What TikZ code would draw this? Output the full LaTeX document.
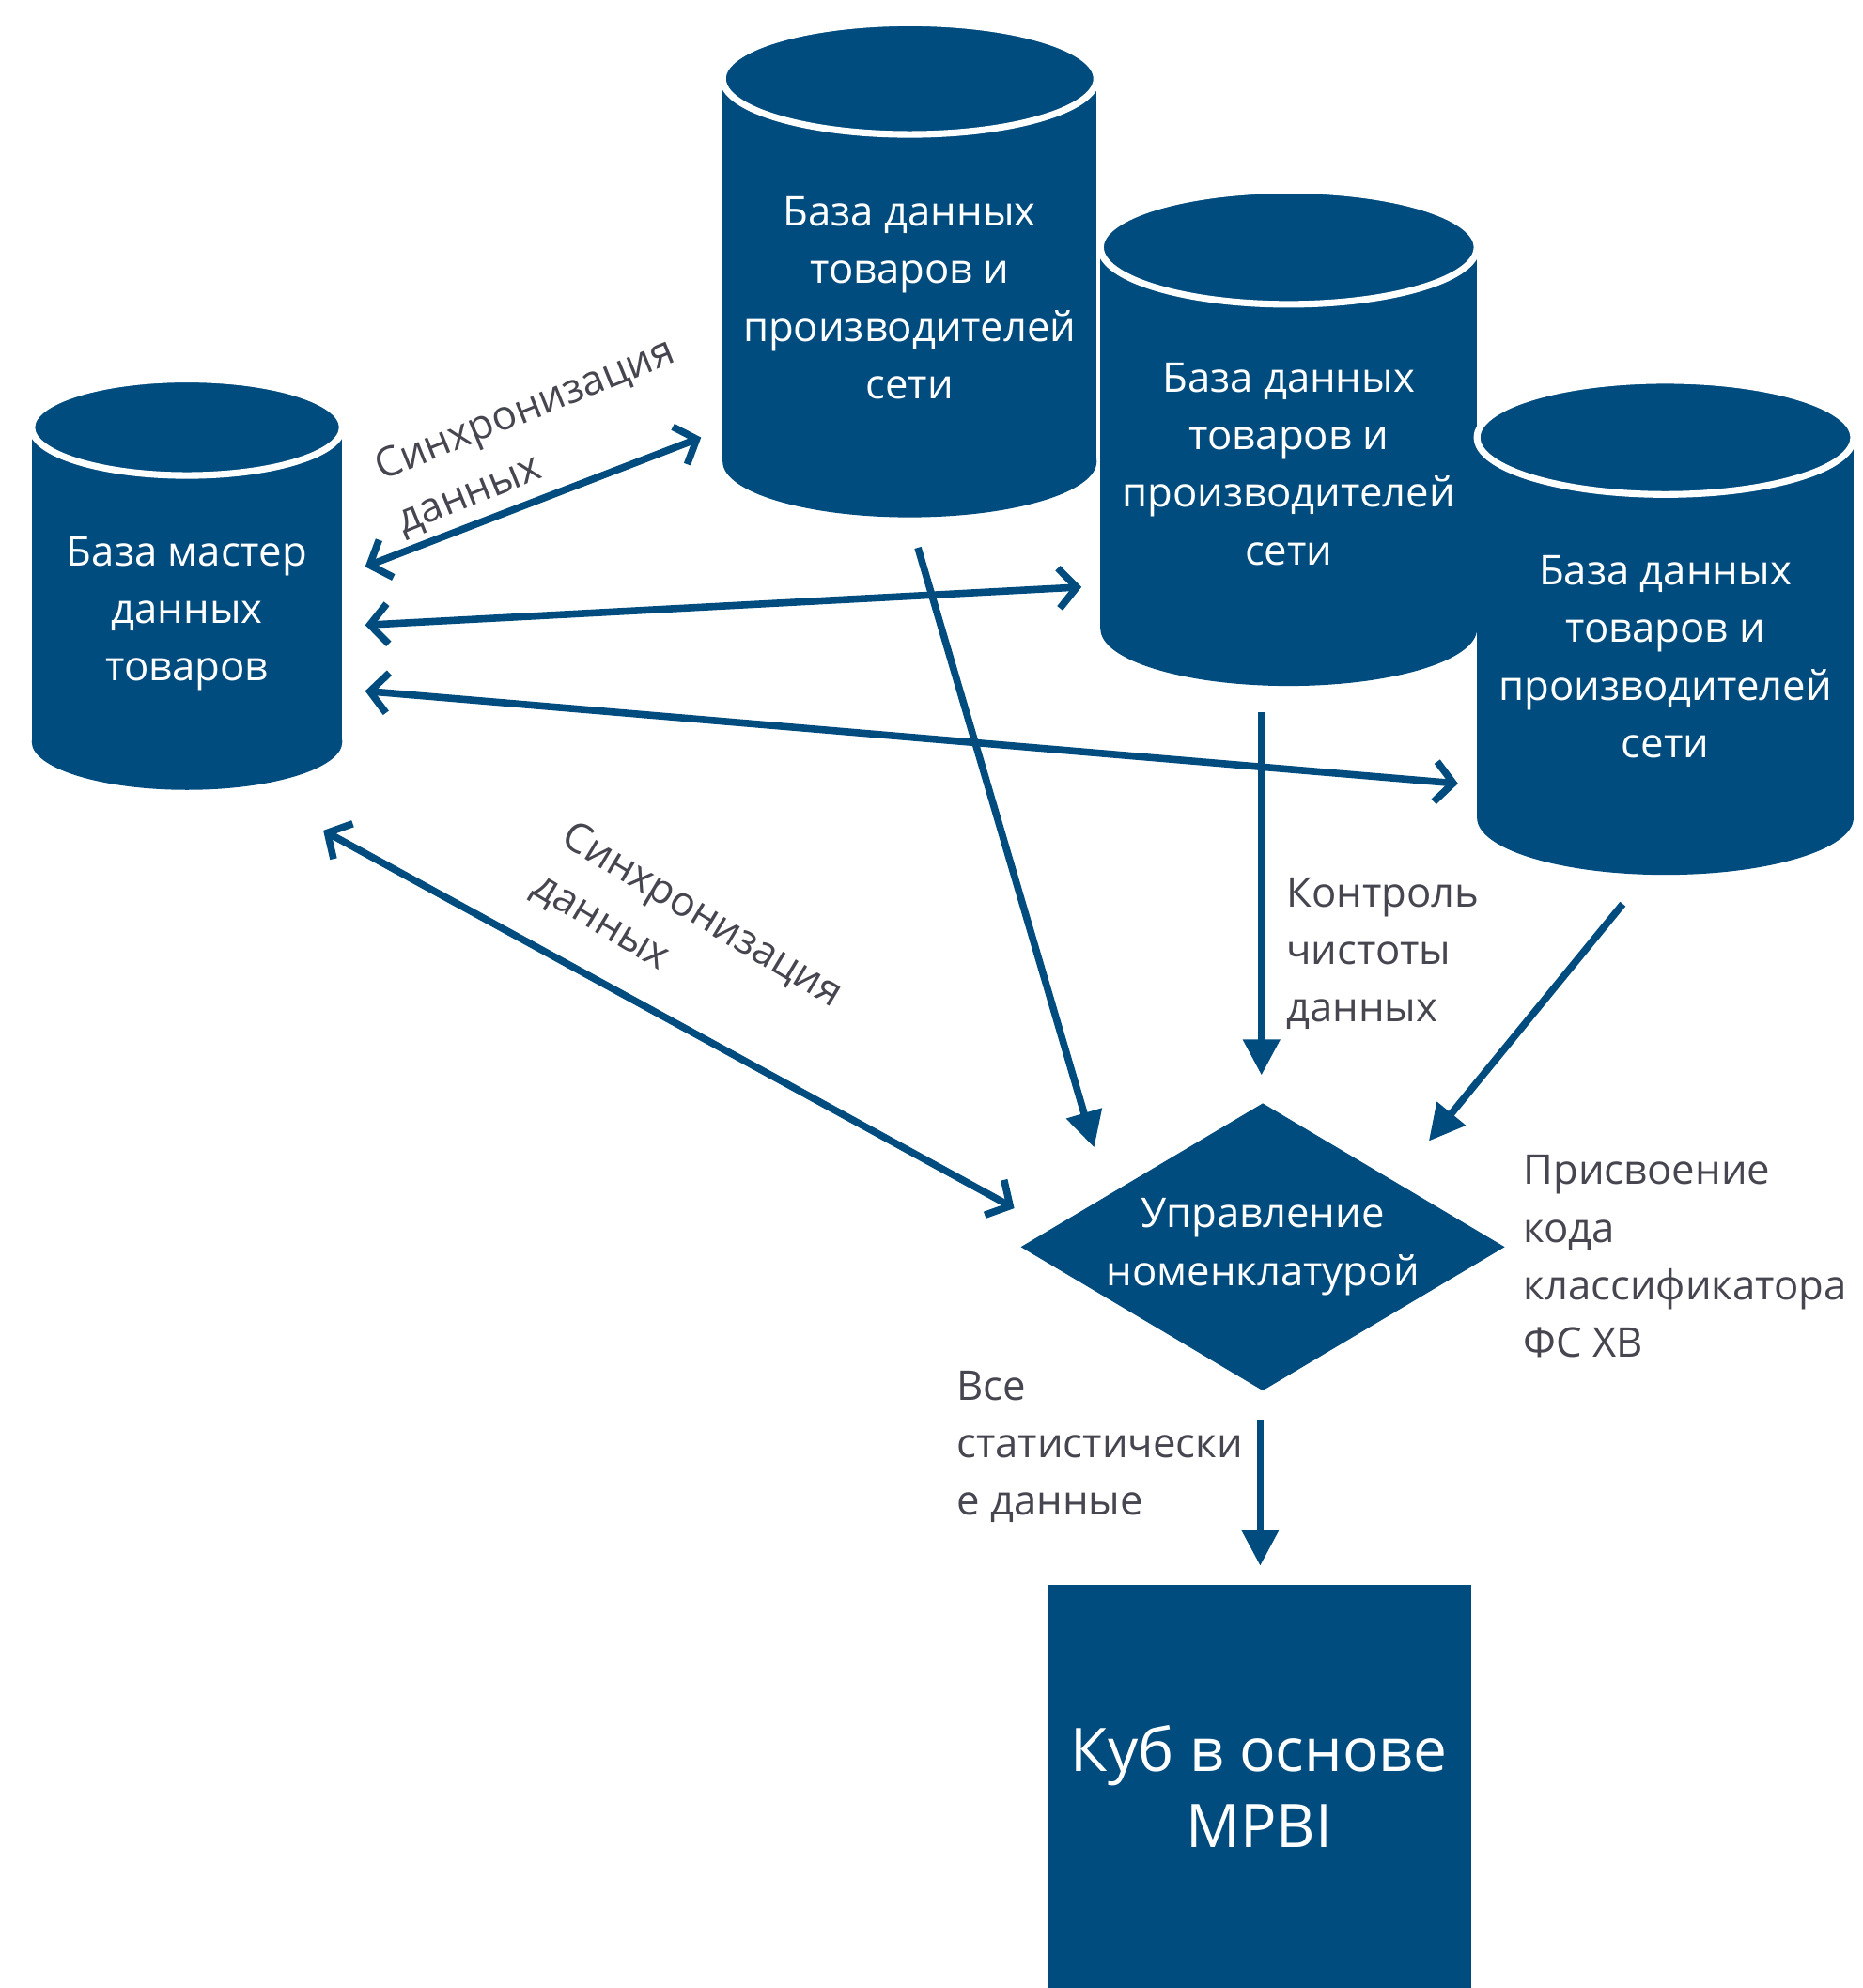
\documentclass[tikz,border=0pt]{standalone}
\usepackage{fontspec}
\setmainfont{Open Sans}
\usepackage{tikz}
\usetikzlibrary{arrows.meta,shapes.geometric,calc}
\definecolor{dbblue}{RGB}{0,76,126}
\definecolor{lblgray}{RGB}{70,70,80}

\begin{document}
\begin{tikzpicture}[x=0.01cm, y=-0.01cm,
		dbtext/.style={text=white, align=center, inner sep=0pt, font=\fontsize{9.2}{12.9}\selectfont},
		lbl/.style={text=lblgray, align=left, inner sep=0pt, font=\fontsize{9.2}{12.9}\selectfont},
		syncarrow/.style={dbblue, line width=1.6pt, {Straight Barb[length=4pt,width=9pt]}-{Straight Barb[length=4pt,width=9pt]}},
		flowarrow/.style={dbblue, line width=1.6pt, -{Triangle[length=8pt,width=8pt]}}]

	\useasboundingbox (0,0) rectangle (1469,1568);

	\foreach \cx/\cy/\hw/\ry/\by in {147.5/337/122.5/38/585, 717.5/62/147.5/44/364, 1016.5/195/148.5/45/496, 1313.5/345/148.5/45/645}
	{
		\fill[dbblue] (\cx-\hw,\cy) rectangle (\cx+\hw,\by);
		\fill[dbblue] (\cx,\by) ellipse [x radius=\hw, y radius=\ry];
		\filldraw[fill=dbblue, draw=white, line width=1.5pt] (\cx,\cy) ellipse [x radius=\hw, y radius=\ry];
	}

	\node[dbtext] (m) at (147.5,484) {База мастер\\данных\\товаров};
	\node[dbtext] (d1) at (717.5,235) {База данных\\товаров и\\производителей\\сети};
	\node[dbtext] (d2) at (1016.5,366) {База данных\\товаров и\\производителей\\сети};
	\node[dbtext] (d3) at (1313.5,518) {База данных\\товаров и\\производителей\\сети};

	\node[diamond, fill=dbblue, minimum width=3.82cm, minimum height=2.27cm, inner sep=0pt] (nom) at (996,983.5) {};
	\node[dbtext] at (nom) {Управление\\номенклатурой};

	\node[fill=dbblue, minimum width=3.34cm, minimum height=3.18cm, inner sep=0pt, text=white, align=center, font=\fontsize{13.5}{17}\selectfont] (cube) at (993,1409) {Куб в основе\\MPBI};

	\draw[syncarrow] ($(m)+(140.5,-37)$) -- ($(d1)+(-164.5,110)$);
	\draw[syncarrow] ($(m)+(140.5,9)$) -- ($(d2)+(-163.5,97)$);
	\draw[syncarrow] ($(m)+(140.5,61)$) -- ($(d3)+(-163.5,100)$);
	\draw[syncarrow] ($(m)+(107.5,171)$) -- ($(nom)+(-196,-30.5)$);

	\draw[flowarrow] ($(d1)+(6.5,197)$) -- ($(nom)+(-133,-78.5)$);
	\draw[flowarrow] ($(d2)+(-21.5,196)$) -- ($(nom)+(-1,-135.5)$);
	\draw[flowarrow] ($(d3)+(-33.5,195)$) -- ($(nom)+(131,-83.5)$);
	\draw[flowarrow] ($(nom)+(-2,136.5)$) -- ($(cube)+(1,-174)$);

	\node[lbl, rotate=22] (sync1) at (423,345) {Синхронизация\\данных};
	\node[lbl, rotate=-31] (sync2) at (542,742) {Синхронизация\\данных};
	\node[lbl, anchor=west] (ctl) at (1014,752) {Контроль\\чистоты\\данных};
	\node[lbl, anchor=west] (code) at (1201,991) {Присвоение\\кода\\классификатора\\ФС ХВ};
	\node[lbl, anchor=west] (stat) at (754,1141) {Все\\статистически\\е данные};

\end{tikzpicture}
\end{document}
